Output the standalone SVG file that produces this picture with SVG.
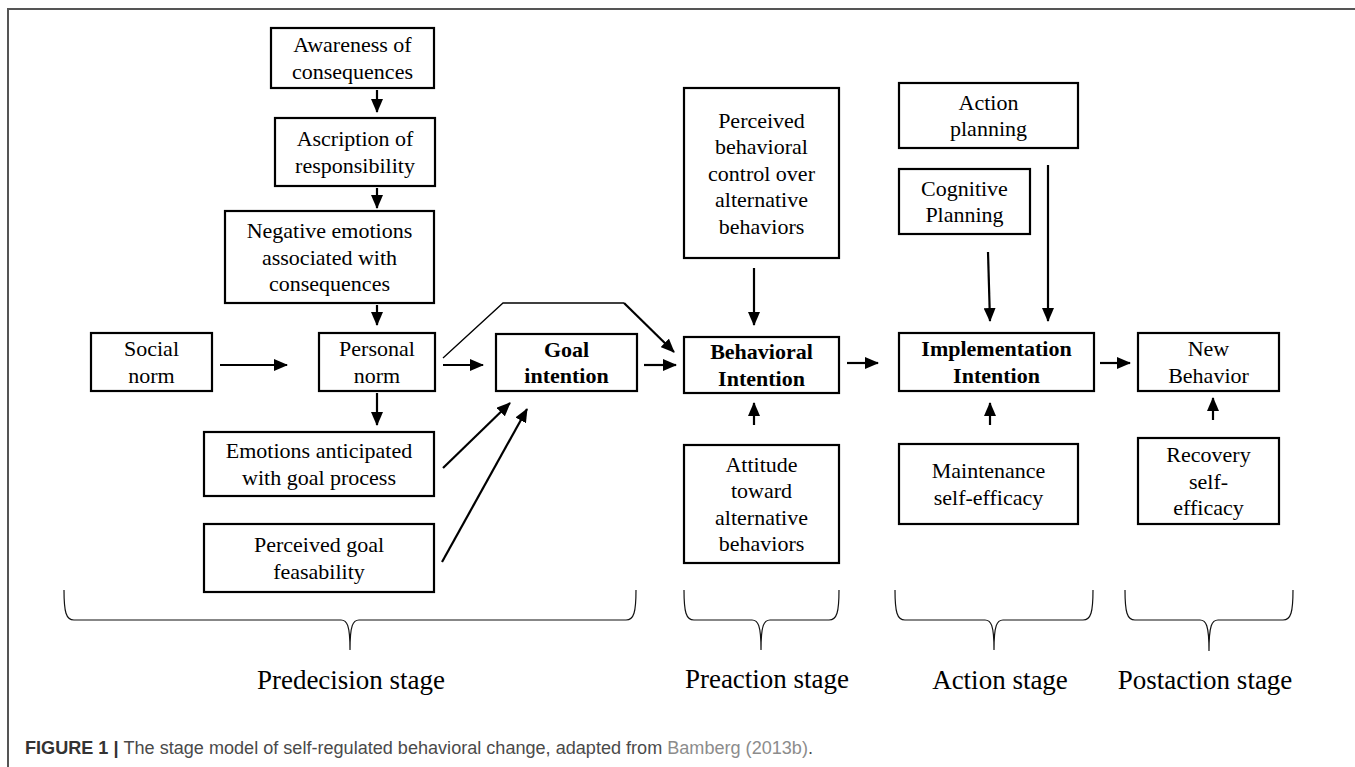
<svg xmlns="http://www.w3.org/2000/svg" width="1355" height="767" viewBox="0 0 1355 767">
<style>
.box{fill:#fff;stroke:#000;stroke-width:2.2}
.t{font-family:"Liberation Serif","Times New Roman",serif;font-size:22px;fill:#000;text-anchor:middle}
.b{font-weight:bold}
.c{stroke:#000;stroke-width:2.2;fill:none}
.thin{stroke:#000;stroke-width:1.3;fill:none}
.brace{stroke:#111;stroke-width:1.2;fill:none}
.stage{font-family:"Liberation Serif","Times New Roman",serif;font-size:27px;fill:#000;text-anchor:middle}
.cap{font-family:"Liberation Sans",Arial,sans-serif;font-size:17.5px;fill:#4a4a4a}
</style>
<defs>
<marker id="ah" markerUnits="userSpaceOnUse" markerWidth="14" markerHeight="12" viewBox="0 0 14 12" refX="13" refY="6" orient="auto"><path d="M0,0 L14,6 L0,12 z" fill="#000"/></marker>
</defs>
<rect width="1355" height="767" fill="#fff"/>
<g id="frame" stroke="#555" stroke-width="2" fill="none"><path d="M8,767 L8,9 L1355,9"/></g>

<g id="connectors">
<line class="c" x1="377" y1="90" x2="377" y2="112" marker-end="url(#ah)"/>
<line class="c" x1="377" y1="188" x2="377" y2="208" marker-end="url(#ah)"/>
<line class="c" x1="377" y1="305" x2="377" y2="325" marker-end="url(#ah)"/>
<line class="c" x1="220" y1="365" x2="287" y2="365" marker-end="url(#ah)"/>
<line class="c" x1="377" y1="393" x2="377" y2="425" marker-end="url(#ah)"/>
<line class="c" x1="443" y1="365" x2="483" y2="365" marker-end="url(#ah)"/>
<path class="thin" d="M443,358 L503,303 L624,303"/>
<line class="c" x1="624" y1="303" x2="674" y2="352" marker-end="url(#ah)"/>
<line class="c" x1="443" y1="468" x2="510" y2="403" marker-end="url(#ah)"/>
<line class="c" x1="442" y1="562" x2="527" y2="409" marker-end="url(#ah)"/>
<line class="c" x1="644" y1="365" x2="676" y2="365" marker-end="url(#ah)"/>
<line class="c" x1="754" y1="268" x2="754" y2="325" marker-end="url(#ah)"/>
<line class="c" x1="754" y1="425" x2="754" y2="403" marker-end="url(#ah)"/>
<line class="c" x1="847" y1="363" x2="878" y2="363" marker-end="url(#ah)"/>
<line class="c" x1="988" y1="252" x2="990" y2="321" marker-end="url(#ah)"/>
<line class="c" x1="1048" y1="165" x2="1048" y2="321" marker-end="url(#ah)"/>
<line class="c" x1="990" y1="425" x2="990" y2="403" marker-end="url(#ah)"/>
<line class="c" x1="1100" y1="363" x2="1130" y2="363" marker-end="url(#ah)"/>
<line class="c" x1="1213" y1="420" x2="1213" y2="398" marker-end="url(#ah)"/>
</g>

<g id="n-awareness"><rect class="box" x="271" y="28" width="163" height="60"/><text class="t" x="352.5" y="52.25">Awareness of</text><text class="t" x="352.5" y="78.75">consequences</text></g>
<g id="n-ascription"><rect class="box" x="275" y="118" width="160" height="68"/><text class="t" x="355" y="146.25">Ascription of</text><text class="t" x="355" y="172.75">responsibility</text></g>
<g id="n-negative"><rect class="box" x="225" y="211" width="209" height="92"/><text class="t" x="329.5" y="238">Negative emotions</text><text class="t" x="329.5" y="264.5">associated with</text><text class="t" x="329.5" y="291">consequences</text></g>
<g id="n-social"><rect class="box" x="91" y="333" width="121" height="58"/><text class="t" x="151.5" y="356.25">Social</text><text class="t" x="151.5" y="382.75">norm</text></g>
<g id="n-personal"><rect class="box" x="319" y="333" width="116" height="58"/><text class="t" x="377" y="356.25">Personal</text><text class="t" x="377" y="382.75">norm</text></g>
<g id="n-emotions"><rect class="box" x="204" y="432" width="230" height="64"/><text class="t" x="319" y="458.25">Emotions anticipated</text><text class="t" x="319" y="484.75">with goal process</text></g>
<g id="n-feasibility"><rect class="box" x="204" y="524" width="230" height="68"/><text class="t" x="319" y="552.25">Perceived goal</text><text class="t" x="319" y="578.75">feasability</text></g>
<g id="n-goal"><rect class="box" x="496" y="334" width="141" height="57"/><text class="t b" x="566.5" y="356.75">Goal</text><text class="t b" x="566.5" y="383.25">intention</text></g>
<g id="n-pbc"><rect class="box" x="684" y="88" width="155" height="170"/><text class="t" x="761.5" y="127.5">Perceived</text><text class="t" x="761.5" y="154">behavioral</text><text class="t" x="761.5" y="180.5">control over</text><text class="t" x="761.5" y="207">alternative</text><text class="t" x="761.5" y="233.5">behaviors</text></g>
<g id="n-behavioral"><rect class="box" x="684" y="337" width="155" height="56"/><text class="t b" x="761.5" y="359.25">Behavioral</text><text class="t b" x="761.5" y="385.75">Intention</text></g>
<g id="n-attitude"><rect class="box" x="684" y="445" width="155" height="118"/><text class="t" x="761.5" y="471.75">Attitude</text><text class="t" x="761.5" y="498.25">toward</text><text class="t" x="761.5" y="524.75">alternative</text><text class="t" x="761.5" y="551.25">behaviors</text></g>
<g id="n-action"><rect class="box" x="899" y="83" width="179" height="65"/><text class="t" x="988.5" y="109.75">Action</text><text class="t" x="988.5" y="136.25">planning</text></g>
<g id="n-cognitive"><rect class="box" x="899" y="169" width="131" height="65"/><text class="t" x="964.5" y="195.75">Cognitive</text><text class="t" x="964.5" y="222.25">Planning</text></g>
<g id="n-implementation"><rect class="box" x="899" y="333" width="195" height="58"/><text class="t b" x="996.5" y="356.25">Implementation</text><text class="t b" x="996.5" y="382.75">Intention</text></g>
<g id="n-maintenance"><rect class="box" x="899" y="444" width="179" height="80"/><text class="t" x="988.5" y="478.25">Maintenance</text><text class="t" x="988.5" y="504.75">self-efficacy</text></g>
<g id="n-new"><rect class="box" x="1138" y="333" width="141" height="58"/><text class="t" x="1208.5" y="356.25">New</text><text class="t" x="1208.5" y="382.75">Behavior</text></g>
<g id="n-recovery"><rect class="box" x="1138" y="438" width="141" height="86"/><text class="t" x="1208.5" y="462">Recovery</text><text class="t" x="1208.5" y="488.5">self-</text><text class="t" x="1208.5" y="515">efficacy</text></g>

<g id="braces">
<path class="brace" d="M64,590 C64,612 66,620 74,620 L341,620 C347,620 350,625 350,650 C350,625 353,620 359,620 L626,620 C634,620 636,612 636,590"/>
<path class="brace" d="M684,590 C684,612 686,620 694,620 L752,620 C758,620 761,625 761,650 C761,625 764,620 770,620 L829,620 C837,620 839,612 839,590"/>
<path class="brace" d="M895,590 C895,612 897,620 905,620 L985,620 C991,620 994,625 994,650 C994,625 997,620 1003,620 L1083,620 C1091,620 1093,612 1093,590"/>
<path class="brace" d="M1125,590 C1125,612 1127,620 1135,620 L1200,620 C1206,620 1209,625 1209,651 C1209,625 1212,620 1218,620 L1283,620 C1291,620 1293,612 1293,590"/>
</g>

<g id="stages">
<text class="stage" x="351" y="689">Predecision stage</text>
<text class="stage" x="767" y="688">Preaction stage</text>
<text class="stage" x="1000" y="689">Action stage</text>
<text class="stage" x="1205" y="689">Postaction stage</text>
</g>

<g id="caption">
<text class="cap" x="25" y="754" textLength="788" lengthAdjust="spacingAndGlyphs"><tspan font-weight="bold" fill="#333">FIGURE 1 | </tspan>The stage model of self-regulated behavioral change, adapted from <tspan fill="#8c8c8c">Bamberg (2013b)</tspan>.</text>
</g>
</svg>
